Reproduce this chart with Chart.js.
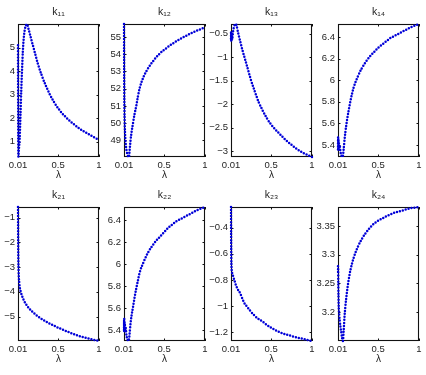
<!DOCTYPE html>
<html><head><meta charset="utf-8">
<script src="https://cdn.jsdelivr.net/npm/chart.js@4.4.1/dist/chart.umd.min.js"></script>
<style>
html,body{margin:0;padding:0;background:#fff;width:426px;height:375px;overflow:hidden;}
#wrap{position:relative;width:426px;height:375px;}
#wrap canvas{position:absolute;}
</style></head><body><div id="wrap"></div>
<script>
// ---- data ----
const lambda = [0.010,0.011,0.012,0.013,0.014,0.016,0.018,0.020,0.025,0.030,0.040,0.050,0.060,0.070,0.080,0.090,0.100,0.120,0.140,0.160,0.180,0.200,0.250,0.300,0.350,0.400,0.450,0.500,0.550,0.600,0.650,0.700,0.750,0.800,0.850,0.900,0.950,1.000];
const k11 = [5.10,3.60,2.20,1.10,0.40,0.36,0.50,0.62,0.85,1.10,2.10,3.20,4.10,4.90,5.40,5.70,5.88,6.00,5.78,5.52,5.25,5.00,4.35,3.82,3.38,3.00,2.68,2.42,2.20,2.02,1.86,1.72,1.58,1.46,1.36,1.26,1.16,1.07];
const k12 = [55.75,54.20,53.00,52.10,51.40,50.60,50.10,49.75,49.20,48.85,48.45,48.22,48.08,48.04,48.50,49.00,49.40,50.00,50.55,51.00,51.55,52.00,52.70,53.15,53.50,53.80,54.05,54.25,54.43,54.60,54.75,54.89,55.02,55.14,55.26,55.36,55.46,55.56];
const k13 = [-0.60,-0.45,-0.66,-0.48,-0.62,-0.50,-0.64,-0.55,-0.62,-0.52,-0.40,-0.33,-0.30,-0.29,-0.34,-0.42,-0.50,-0.64,-0.78,-0.91,-1.03,-1.15,-1.46,-1.72,-1.96,-2.14,-2.30,-2.43,-2.53,-2.62,-2.71,-2.79,-2.86,-2.93,-2.99,-3.04,-3.08,-3.12];
const k14 = [5.36,5.47,5.37,5.46,5.36,5.45,5.36,5.43,5.36,5.40,5.34,5.31,5.29,5.30,5.37,5.45,5.52,5.63,5.72,5.80,5.87,5.93,6.03,6.11,6.17,6.22,6.26,6.30,6.33,6.36,6.39,6.41,6.43,6.45,6.47,6.49,6.505,6.52];
const k21 = [-0.57,-1.30,-1.90,-2.35,-2.65,-3.00,-3.22,-3.38,-3.62,-3.78,-3.95,-4.07,-4.17,-4.26,-4.33,-4.40,-4.46,-4.56,-4.65,-4.72,-4.79,-4.85,-4.99,-5.10,-5.20,-5.29,-5.37,-5.45,-5.52,-5.59,-5.66,-5.72,-5.78,-5.83,-5.87,-5.91,-5.95,-5.98];
const k22 = [5.40,5.49,5.39,5.50,5.40,5.48,5.39,5.46,5.38,5.42,5.35,5.32,5.30,5.31,5.38,5.46,5.52,5.61,5.70,5.78,5.85,5.92,6.02,6.10,6.16,6.21,6.25,6.29,6.33,6.36,6.39,6.41,6.43,6.45,6.47,6.49,6.505,6.52];
const k23 = [-0.243,-0.40,-0.52,-0.60,-0.65,-0.70,-0.72,-0.735,-0.75,-0.76,-0.78,-0.80,-0.82,-0.84,-0.855,-0.87,-0.88,-0.90,-0.93,-0.96,-0.985,-1.00,-1.04,-1.075,-1.10,-1.12,-1.145,-1.165,-1.183,-1.198,-1.21,-1.22,-1.229,-1.237,-1.245,-1.252,-1.26,-1.267];
const k24 = [3.280,3.270,3.275,3.255,3.245,3.228,3.215,3.207,3.195,3.187,3.175,3.165,3.155,3.150,3.170,3.193,3.210,3.236,3.256,3.272,3.284,3.294,3.313,3.327,3.338,3.347,3.354,3.359,3.363,3.367,3.370,3.373,3.375,3.377,3.379,3.381,3.382,3.383];

const titles = ['k₁₁','k₁₂','k₁₃','k₁₄','k₂₁','k₂₂','k₂₃','k₂₄'];
const xLabel = 'λ';
const xTicks = [0.01, 0.5, 1];
const xTickLabels = ['0.01', '0.5', '1'];
const yTicks11 = [1,2,3,4,5];
const yTicks12 = [49,50,51,52,53,54,55];
const yTicks13 = [-3,-2.5,-2,-1.5,-1,-0.5];
const yTicks14 = [5.4,5.6,5.8,6,6.2,6.4];
const yTicks21 = [-5,-4,-3,-2,-1];
const yTicks22 = [5.4,5.6,5.8,6,6.2,6.4];
const yTicks23 = [-1.2,-1,-0.8,-0.6,-0.4];
const yTicks24 = [3.2,3.25,3.3,3.35];
const yRange11 = [0.34, 6.01];
const yRange12 = [48.04, 55.75];
const yRange13 = [-3.12, -0.29];
const yRange14 = [5.29, 6.52];
const yRange21 = [-5.99, -0.565];
const yRange22 = [5.30, 6.52];
const yRange23 = [-1.267, -0.243];
const yRange24 = [3.150, 3.383];

// ---- layout / style ----
const series = [k11,k12,k13,k14,k21,k22,k23,k24];
const yTicksAll = [yTicks11,yTicks12,yTicks13,yTicks14,yTicks21,yTicks22,yTicks23,yTicks24];
const yRanges = [yRange11,yRange12,yRange13,yRange14,yRange21,yRange22,yRange23,yRange24];
const boxLefts = [18,124,231,338];
const boxW = 81;
const rowTops = [24,207];
const rowH = [133,134];
const MARGIN = 30;
const FONT = "'Liberation Sans', Arial, Helvetica, sans-serif";
const TXT = '#1e1e1e';
const BLUE = '#0000d8';

const fmt = v => String(v).replace('-', '\u2212');

const framePlugin = {
  id: 'frame',
  beforeDatasetsDraw(chart) {
    const {ctx, chartArea: a, scales} = chart;
    ctx.save();
    ctx.strokeStyle = '#111';
    ctx.lineWidth = 1.1;
    ctx.strokeRect(a.left + 0.5, a.top + 0.5, a.right - a.left - 1, a.bottom - a.top - 1);
    const tl = 2.5;
    ctx.lineWidth = 1;
    ctx.beginPath();
    (chart.$yTicks || []).forEach(v => {
      const y = Math.round(scales.y.getPixelForValue(v)) + 0.5;
      ctx.moveTo(a.left, y); ctx.lineTo(a.left + tl, y);
      ctx.moveTo(a.right, y); ctx.lineTo(a.right - tl, y);
    });
    xTicks.forEach(v => {
      const x = Math.round(scales.x.getPixelForValue(v)) + 0.5;
      ctx.moveTo(x, a.bottom); ctx.lineTo(x, a.bottom - tl);
      ctx.moveTo(x, a.top); ctx.lineTo(x, a.top + tl);
    });
    ctx.stroke();
    ctx.restore();
  }
};

const wrap = document.getElementById('wrap');
series.forEach((vals, i) => {
  const col = i % 4, row = Math.floor(i / 4);
  const L = boxLefts[col], T = rowTops[row], H = rowH[row];
  const cv = document.createElement('canvas');
  const cw = boxW + 2 * MARGIN, ch = H + 24 + 30;
  cv.width = cw; cv.height = ch;
  cv.style.left = (L - MARGIN) + 'px';
  cv.style.top = (T - 24) + 'px';
  cv.style.width = cw + 'px'; cv.style.height = ch + 'px';
  wrap.appendChild(cv);
  const yt = yTicksAll[i];
  const chart = new Chart(cv, {
    type: 'line',
    data: {
      datasets: [{
        data: lambda.map((x, j) => ({x: x, y: vals[j]})),
        borderColor: BLUE,
        borderWidth: 2.5,
        borderDash: [0, 3.0],
        borderCapStyle: 'round',
        borderJoinStyle: 'round',
        pointRadius: 0,
        cubicInterpolationMode: 'monotone',
        fill: false,
        clip: 4
      }]
    },
    options: {
      responsive: false,
      animation: false,
      devicePixelRatio: 1,
      layout: {padding: {left: 0, right: MARGIN, top: 0, bottom: 0}},
      plugins: {
        legend: {display: false},
        tooltip: {enabled: false},
        title: {
          display: true, text: titles[i], color: TXT, fullSize: false,
          font: {family: FONT, size: 10.5, weight: 'normal', lineHeight: 1.2},
          padding: {top: 5.5, bottom: 5.9}
        }
      },
      scales: {
        x: {
          type: 'linear', min: 0.01, max: 1,
          afterBuildTicks: s => { s.ticks = xTicks.map(v => ({value: v})); },
          afterFit: s => { s.height = 30; },
          grid: {display: false, drawTicks: false},
          border: {display: false},
          ticks: {autoSkip: false, maxRotation: 0, minRotation: 0, padding: 3, color: TXT,
                  font: {family: FONT, size: 9.5, lineHeight: 1.2},
                  callback: (v, idx) => xTickLabels[idx]},
          title: {display: true, text: xLabel, color: TXT,
                  font: {family: FONT, size: 10, lineHeight: 1.2},
                  padding: {top: 0, bottom: 5.5}}
        },
        y: {
          type: 'linear', min: yRanges[i][0], max: yRanges[i][1],
          afterBuildTicks: s => { s.ticks = yt.map(v => ({value: v})); },
          afterFit: s => { s.width = MARGIN; },
          grid: {display: false, drawTicks: false},
          border: {display: false},
          ticks: {autoSkip: false, padding: 3, color: TXT,
                  font: {family: FONT, size: 9.5, lineHeight: 1.2},
                  callback: v => fmt(v)}
        }
      }
    },
    plugins: [framePlugin]
  });
  chart.$yTicks = yt;
  chart.draw();
});
</script>
</body></html>
